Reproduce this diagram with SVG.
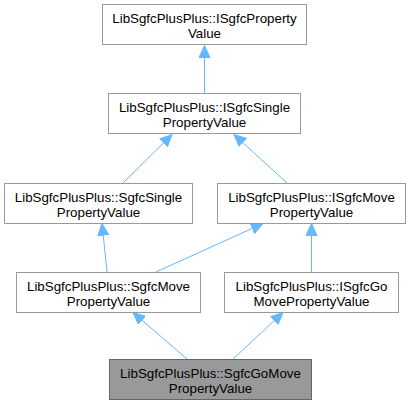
<svg xmlns="http://www.w3.org/2000/svg" width="411" height="406" viewBox="0 0 411 406">
<style>
.n rect{fill:#ffffff;stroke:#999999;stroke-width:1}
.n.cur rect{fill:#999999;stroke:#666666}
.n text{font-family:"Liberation Sans",Arial,Helvetica,sans-serif;font-size:13.33px;fill:#000000;text-anchor:middle}
.e line{stroke:#63b8ff;stroke-width:1;marker-end:url(#ah)}
</style>
<defs>
<marker id="ah" markerUnits="userSpaceOnUse" markerWidth="14" markerHeight="14" refX="12" refY="6" orient="auto">
<path d="M0,0.5 L12,6 L0,11.5 z" fill="#63b8ff" stroke="#63b8ff" stroke-width="1"/>
</marker>
</defs>
<rect width="411" height="406" fill="#ffffff"/>
<g id="edges" class="e">
<line x1="204.5" y1="93" x2="204.5" y2="45.5"/>
<line x1="123" y1="183" x2="172" y2="134.5"/>
<line x1="287" y1="183" x2="234" y2="134.5"/>
<line x1="107" y1="272" x2="102" y2="223.5"/>
<line x1="156" y1="272" x2="263" y2="223.5"/>
<line x1="311.5" y1="272" x2="311.5" y2="223.5"/>
<line x1="187" y1="359" x2="133" y2="312.5"/>
<line x1="233" y1="359" x2="283" y2="312.5"/>
</g>
<g id="n1" class="n"><rect x="102.5" y="4.5" width="204" height="40"/><text x="204.5" y="22.5">LibSgfcPlusPlus::ISgfcProperty</text><text x="204.5" y="37.5">Value</text></g>
<g id="n2" class="n"><rect x="108.5" y="93.5" width="192" height="40"/><text x="204.5" y="111.5">LibSgfcPlusPlus::ISgfcSingle</text><text x="204.5" y="126.5">PropertyValue</text></g>
<g id="n3" class="n"><rect x="4.5" y="183.5" width="188" height="40"/><text x="98.5" y="201.5">LibSgfcPlusPlus::SgfcSingle</text><text x="98.5" y="216.5">PropertyValue</text></g>
<g id="n4" class="n"><rect x="217.5" y="183.5" width="188" height="40"/><text x="311.5" y="201.5">LibSgfcPlusPlus::ISgfcMove</text><text x="311.5" y="216.5">PropertyValue</text></g>
<g id="n5" class="n"><rect x="16.5" y="272.5" width="184" height="40"/><text x="108.5" y="290.5">LibSgfcPlusPlus::SgfcMove</text><text x="108.5" y="305.5">PropertyValue</text></g>
<g id="n6" class="n"><rect x="224.5" y="272.5" width="174" height="40"/><text x="311.5" y="290.5">LibSgfcPlusPlus::ISgfcGo</text><text x="311.5" y="305.5">MovePropertyValue</text></g>
<g id="n7" class="n cur"><rect x="109.5" y="359.5" width="202" height="40"/><text x="210.5" y="377.5">LibSgfcPlusPlus::SgfcGoMove</text><text x="210.5" y="392.5">PropertyValue</text></g>
</svg>
